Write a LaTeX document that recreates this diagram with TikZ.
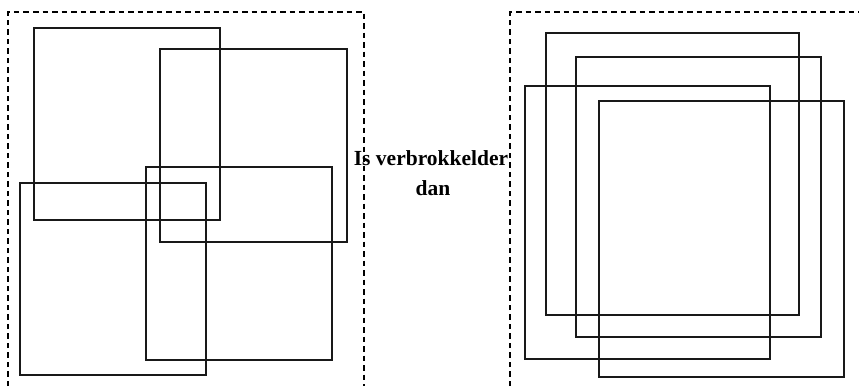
\documentclass[tikz,border=0pt]{standalone}
\usepackage{fontspec}
\setmainfont{Liberation Serif}
\begin{document}
\begin{tikzpicture}[x=1pt,y=-1pt,
  sq/.style={draw=black!90,line width=1.2pt},
  frame/.style={draw=black,line width=1.3pt,dash pattern=on 5.5pt off 4pt},
  lbl/.style={font=\bfseries\fontsize{21.5}{30}\selectfont,anchor=base,inner sep=0pt}]
\useasboundingbox (0,0) rectangle (859,386);
% dashed frames
\draw[frame] (8,386) -- (8,12) -- (364,12) -- (364,386);
\draw[frame] (510,386) -- (510,12) -- (859,12);
% left group
\draw[sq] (34,28) rectangle (220,220);
\draw[sq] (160,49) rectangle (347,242);
\draw[sq] (146,167) rectangle (332,360);
\draw[sq] (20,183) rectangle (206,375);
% right group
\draw[sq] (546,33) rectangle (799,315);
\draw[sq] (576,57) rectangle (821,337);
\draw[sq] (525,86) rectangle (770,359);
\draw[sq] (599,101) rectangle (844,377);
% text
\node[lbl] (t1) at (431,165) {Is verbrokkelder};
\node[lbl] (t2) at (433,195) {dan};
\end{tikzpicture}
\end{document}
